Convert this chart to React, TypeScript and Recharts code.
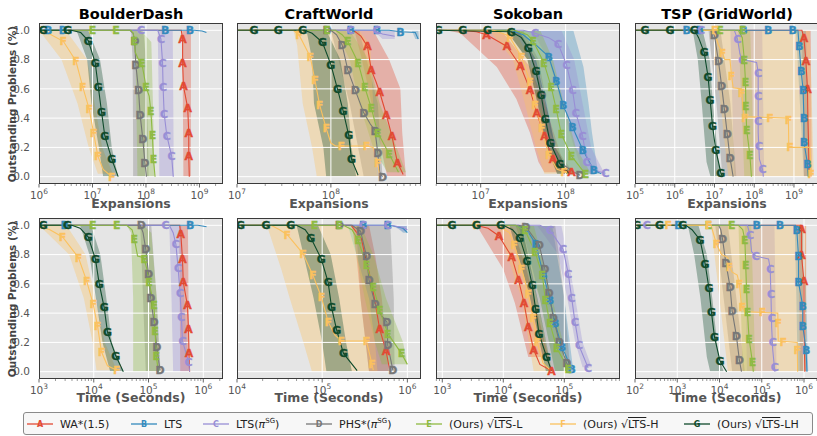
import React from "react";
import { ComposedChart, Line, Area, XAxis, YAxis, CartesianGrid, ReferenceLine } from "recharts";

// x values are log10(expansions) or log10(seconds); y is the share of problems still unsolved.
// series order in every panel: WA*, LTS, LTS(piSG), PHS*, sqrtLTS-L, sqrtLTS-H, sqrtLTS-LH
type Pt = [number, number];
type Band = [number, number, number]; // [y, low, high]

const methods = ["WA*(1.5)", "LTS", "LTS(πSG)", "PHS*(πSG)", "(Ours) √LTS-L", "(Ours) √LTS-H", "(Ours) √LTS-LH"];
const colors = ["#E24A33", "#348ABD", "#988ED5", "#777777", "#8EBA42", "#FBC15E", "#0E4A2B"];
const letters = ["A", "B", "C", "D", "E", "F", "G"];
const yTicks = [0, 0.2, 0.4, 0.6, 0.8, 1.0];

// ---------- BoulderDash, expansions
const bdExpTicks = [6, 7, 8, 9];
const bdExpLines: Pt[][] = [
  [[6, 1], [8.66, 1], [8.685, 0.94], [8.685, 0.78], [8.7, 0.62], [8.78, 0.47], [8.8, 0.3], [8.8, 0.14], [8.81, 0]],
  [[6, 1], [8.9, 1], [9.05, 0.995], [9.13, 0.985]],
  [[6, 1], [8.22, 1], [8.28, 0.94], [8.31, 0.78], [8.32, 0.61], [8.34, 0.43], [8.39, 0.28], [8.48, 0.14], [8.51, 0]],
  [[6, 1], [7.7, 1], [7.76, 0.98], [7.79, 0.925], [7.81, 0.766], [7.86, 0.595], [7.89, 0.425], [7.94, 0.26], [7.98, 0.095], [8.01, 0]],
  [[6, 1], [7.72, 1], [7.76, 0.98], [7.78, 0.925], [7.8, 0.85], [7.86, 0.8], [7.92, 0.777], [7.96, 0.7], [8.0, 0.614], [8.06, 0.55], [8.09, 0.452], [8.12, 0.282], [8.14, 0.118], [8.17, 0]],
  [[6, 0.995], [6.2, 0.975], [6.455, 0.925], [6.69, 0.79], [6.82, 0.61], [6.94, 0.46], [7.02, 0.3], [7.1, 0.14], [7.2, 0.05], [7.36, 0]],
  [[6, 1], [6.6, 1], [6.78, 0.985], [6.92, 0.93], [7.05, 0.78], [7.11, 0.61], [7.17, 0.44], [7.23, 0.28], [7.36, 0.12], [7.48, 0]],
];
const bdExpMarks: Pt[][] = [
  [[8.685, 0.94], [8.685, 0.78], [8.7, 0.62], [8.78, 0.47], [8.8, 0.3], [8.8, 0.14]],
  [[6.17, 1], [6.45, 1], [8.36, 1], [8.82, 1]],
  [[7.91, 1], [8.28, 0.94], [8.31, 0.78], [8.32, 0.61], [8.34, 0.43], [8.39, 0.28], [8.48, 0.14]],
  [[7.79, 0.925], [7.81, 0.766], [7.86, 0.595], [7.89, 0.425], [7.94, 0.26], [7.98, 0.095]],
  [[7.0, 1], [7.44, 1], [7.78, 0.925], [7.92, 0.777], [8.0, 0.614], [8.09, 0.452], [8.12, 0.282], [8.14, 0.118]],
  [[6.455, 0.925], [6.69, 0.79], [6.82, 0.61], [6.94, 0.46], [7.02, 0.3], [7.1, 0.14], [7.36, 0.0]],
  [[6.08, 1], [6.54, 1], [6.92, 0.93], [7.05, 0.78], [7.11, 0.61], [7.17, 0.44], [7.23, 0.28], [7.36, 0.12]],
];
const bdExpBands: Band[][] = [
  [[1, 8.68, 8.84], [0, 8.7, 8.84]],
  [],
  [[1, 8.22, 8.5], [0.5, 8.24, 8.51], [0, 8.25, 8.52]],
  [[1, 7.72, 7.95], [0.8, 7.75, 8.0], [0.2, 7.76, 8.04], [0, 7.76, 8.05]],
  [[1, 7.75, 7.9], [0.92, 7.8, 8.1], [0.5, 7.82, 8.13], [0, 7.84, 8.16]],
  [[1, 6.0, 6.5], [0.8, 6.42, 6.9], [0.5, 6.72, 7.04], [0.2, 6.93, 7.18], [0.02, 7.1, 7.38]],
  [[1, 6.7, 6.92], [0.8, 6.9, 7.14], [0.5, 6.98, 7.27], [0.2, 7.12, 7.36], [0, 7.2, 7.48]],
];

// ---------- CraftWorld, expansions
const cwExpTicks = [7, 8];
const cwExpLines: Pt[][] = [
  [[7, 1], [8.24, 1], [8.32, 0.96], [8.39, 0.89], [8.43, 0.73], [8.48, 0.65], [8.52, 0.577], [8.59, 0.425], [8.65, 0.277], [8.71, 0.095], [8.77, 0.015]],
  [[7, 1], [8.62, 1], [8.74, 0.99], [8.9, 0.985], [8.93, 0.94]],
  [[7, 1], [8.45, 1], [8.55, 0.975], [8.68, 0.96]],
  [[7, 1], [8.0, 1], [8.06, 0.97], [8.12, 0.9], [8.18, 0.73], [8.26, 0.59], [8.35, 0.436], [8.42, 0.36], [8.47, 0.316], [8.5, 0.16], [8.52, 0.03], [8.55, 0]],
  [[7, 1], [8.05, 1], [8.12, 0.97], [8.18, 0.925], [8.29, 0.78], [8.36, 0.614], [8.43, 0.47], [8.5, 0.3], [8.62, 0.157], [8.72, 0.03]],
  [[7, 1], [7.6, 1], [7.66, 0.97], [7.78, 0.82], [7.83, 0.66], [7.88, 0.49], [7.95, 0.33], [8.0, 0.23], [8.05, 0.21], [8.38, 0.21], [8.45, 0.2], [8.5, 0.095], [8.52, 0]],
  [[7, 1], [7.72, 1], [7.8, 0.98], [7.91, 0.918], [8.0, 0.766], [8.07, 0.6], [8.13, 0.452], [8.19, 0.282], [8.22, 0.118], [8.29, 0.01]],
];
const cwExpMarks: Pt[][] = [
  [[8.39, 0.89], [8.43, 0.73], [8.52, 0.577], [8.59, 0.425], [8.65, 0.277], [8.71, 0.095]],
  [[8.21, 1], [8.49, 1], [8.74, 0.99]],
  [[8.21, 1], [8.49, 1]],
  [[7.96, 1], [8.12, 0.9], [8.18, 0.73], [8.26, 0.59], [8.35, 0.436], [8.47, 0.316], [8.5, 0.16], [8.55, 0.0]],
  [[7.96, 1], [8.18, 0.925], [8.29, 0.78], [8.36, 0.614], [8.43, 0.47], [8.5, 0.3], [8.62, 0.157]],
  [[7.66, 0.97], [7.78, 0.82], [7.83, 0.66], [7.88, 0.49], [7.95, 0.33], [8.11, 0.21], [8.38, 0.21], [8.5, 0.095]],
  [[7.18, 1], [7.44, 1], [7.7, 1], [7.91, 0.918], [8.0, 0.766], [8.07, 0.6], [8.13, 0.452], [8.19, 0.282], [8.22, 0.118]],
];
const cwExpBands: Band[][] = [
  [[1, 8.25, 8.45], [0.8, 8.33, 8.62], [0.6, 8.4, 8.74], [0.3, 8.5, 8.76], [0, 8.6, 8.8]],
  [[1, 8.86, 8.93], [0.94, 8.9, 8.94]],
  [[1, 8.45, 8.68], [0.94, 8.55, 8.68]],
  [[1, 8.0, 8.3], [0.5, 8.2, 8.5], [0, 8.35, 8.55]],
  [[1, 8.05, 8.2], [0.8, 8.2, 8.4], [0.5, 8.3, 8.52], [0.2, 8.45, 8.7], [0.03, 8.6, 8.8]],
  [[1, 7.6, 8.3], [0.9, 7.64, 8.42], [0.5, 7.7, 8.45], [0.2, 7.8, 8.48], [0, 7.85, 8.5]],
  [[1, 7.74, 7.95], [0.8, 7.8, 8.1], [0.5, 7.82, 8.18], [0.2, 7.92, 8.22], [0, 7.95, 8.27]],
];

// ---------- Sokoban, expansions
const skExpTicks = [7, 8];
const skExpLines: Pt[][] = [
  [[6.47, 1], [6.75, 1], [6.95, 0.99], [7.07, 0.97], [7.31, 0.89], [7.47, 0.755], [7.58, 0.595], [7.66, 0.436], [7.75, 0.277], [7.85, 0.12], [7.95, 0.05], [8.07, 0.03]],
  [[6.47, 1], [7.35, 1], [7.5, 0.97], [7.65, 0.9], [7.8, 0.82], [7.89, 0.657], [7.97, 0.49], [8.08, 0.34], [8.2, 0.186], [8.33, 0.045], [8.42, 0.02]],
  [[6.47, 1], [7.5, 1], [7.64, 0.98], [7.8, 0.95], [7.91, 0.91], [8.01, 0.766], [8.08, 0.595], [8.12, 0.436], [8.2, 0.277], [8.23, 0.175], [8.27, 0.1], [8.35, 0.04], [8.47, 0.023]],
  [[6.47, 1], [7.3, 1], [7.45, 0.97], [7.57, 0.88], [7.66, 0.72], [7.72, 0.56], [7.77, 0.395], [7.83, 0.23], [7.95, 0.09], [8.1, 0.03], [8.17, 0.01]],
  [[6.47, 1], [7.4, 1], [7.55, 0.97], [7.62, 0.925], [7.745, 0.777], [7.83, 0.614], [7.89, 0.46], [7.95, 0.29], [8.07, 0.14], [8.235, 0.016]],
  [[6.47, 1], [7.15, 1], [7.3, 0.97], [7.345, 0.95], [7.48, 0.82], [7.58, 0.65], [7.64, 0.49], [7.72, 0.33], [7.8, 0.15], [7.9, 0.05], [8.05, 0.02]],
  [[6.47, 1], [7.36, 0.99], [7.48, 0.95], [7.56, 0.88], [7.65, 0.72], [7.71, 0.56], [7.76, 0.395], [7.82, 0.23], [7.93, 0.09], [8.05, 0.016]],
];
const skExpMarks: Pt[][] = [
  [[7.07, 0.97], [7.31, 0.89], [7.47, 0.755], [7.58, 0.595], [7.66, 0.436], [7.75, 0.277], [7.85, 0.12], [8.07, 0.03]],
  [[7.8, 0.82], [7.89, 0.657], [7.97, 0.49], [8.08, 0.34], [8.2, 0.186], [8.33, 0.045]],
  [[7.64, 0.98], [7.91, 0.91], [8.01, 0.766], [8.08, 0.595], [8.12, 0.436], [8.2, 0.277], [8.25, 0.1], [8.47, 0.023]],
  [[7.72, 0.56], [7.83, 0.23], [8.17, 0.01]],
  [[7.62, 0.925], [7.745, 0.777], [7.83, 0.614], [7.89, 0.46], [7.95, 0.29], [8.07, 0.14], [8.235, 0.016]],
  [[7.345, 0.95], [7.48, 0.82], [7.58, 0.65], [7.64, 0.49], [7.72, 0.33], [7.8, 0.15], [7.98, 0.03]],
  [[6.5, 1], [6.79, 1], [7.08, 1], [7.36, 0.99], [7.56, 0.88], [7.65, 0.72], [7.71, 0.56], [7.76, 0.395], [7.82, 0.23], [7.93, 0.09]],
];
const skExpBands: Band[][] = [
  [[1, 6.6, 7.1], [0.98, 6.76, 7.27], [0.75, 7.19, 7.58], [0.53, 7.42, 7.74], [0.3, 7.58, 7.86], [0.1, 7.68, 7.97], [0.03, 7.75, 8.05]],
  [[1, 7.46, 8.09], [0.75, 7.66, 8.21], [0.5, 7.76, 8.27], [0.3, 7.82, 8.31], [0.07, 7.97, 8.37], [0.02, 8.0, 8.4]],
  [[1, 7.6, 7.95], [0.8, 7.8, 8.1], [0.5, 7.95, 8.2], [0.2, 8.1, 8.3], [0.03, 8.2, 8.45]],
  [[1, 7.3, 7.5], [0.8, 7.55, 7.68], [0.5, 7.67, 7.78], [0.2, 7.77, 7.88], [0.02, 7.9, 8.1]],
  [[1, 7.4, 7.7], [0.8, 7.65, 7.85], [0.5, 7.78, 7.98], [0.2, 7.88, 8.12], [0.02, 8.0, 8.3]],
  [[1, 7.1, 7.4], [0.8, 7.38, 7.58], [0.5, 7.52, 7.7], [0.2, 7.65, 7.82], [0.02, 7.75, 8.05]],
  [[1, 7.3, 7.45], [0.8, 7.55, 7.65], [0.5, 7.67, 7.77], [0.2, 7.78, 7.88], [0.02, 7.9, 8.05]],
];

// ---------- TSP (GridWorld), expansions
const tsExpTicks = [5, 6, 7, 8, 9];
const tsExpLines: Pt[][] = [
  [[5, 1], [9.2, 1], [9.25, 0.95], [9.3, 0.79], [9.34, 0.6], [9.35, 0.4], [9.37, 0.2], [9.38, 0]],
  [[5, 1], [9.1, 1], [9.13, 0.895], [9.18, 0.72], [9.23, 0.595], [9.25, 0.4], [9.25, 0.236], [9.34, 0.09], [9.36, 0]],
  [[5, 1], [7.5, 1], [7.58, 0.94], [7.64, 0.84], [7.7, 0.8], [8.06, 0.78], [8.1, 0.71], [8.1, 0.3], [8.13, 0.12], [8.21, 0.05], [8.23, 0]],
  [[5, 1], [6.9, 1], [6.996, 0.97], [7.1, 0.79], [7.18, 0.62], [7.25, 0.46], [7.32, 0.295], [7.39, 0.13], [7.47, 0]],
  [[5, 1], [7.6, 1], [7.7, 0.95], [7.75, 0.8], [7.78, 0.65], [7.79, 0.48], [7.81, 0.32], [7.89, 0.15], [7.93, 0]],
  [[5, 1], [6.98, 1], [7.1, 0.9], [7.2, 0.845], [7.26, 0.8], [7.39, 0.8], [7.43, 0.69], [7.47, 0.607], [7.68, 0.6], [7.74, 0.41], [8.86, 0.4], [8.87, 0.2], [9.4, 0.2], [9.43, 0]],
  [[5, 1], [6.5, 1], [6.6, 0.95], [6.74, 0.85], [6.84, 0.68], [6.89, 0.527], [6.95, 0.35], [7.03, 0.186], [7.16, 0.027], [7.2, 0]],
];
const tsExpMarks: Pt[][] = [
  [[9.25, 0.95], [9.3, 0.79], [9.34, 0.6]],
  [[6.3, 1], [6.63, 1], [7.73, 1], [8.35, 1], [8.97, 1], [9.13, 0.895], [9.18, 0.72], [9.23, 0.595], [9.25, 0.4], [9.25, 0.236], [9.34, 0.09]],
  [[6.66, 1], [7.58, 0.94], [7.7, 0.8], [8.1, 0.71], [8.1, 0.55], [8.1, 0.38], [8.12, 0.21], [8.21, 0.05]],
  [[6.996, 0.97], [7.1, 0.79], [7.18, 0.62], [7.25, 0.46], [7.32, 0.295], [7.39, 0.13]],
  [[7.14, 1], [7.71, 1], [7.75, 0.8], [7.78, 0.65], [7.79, 0.48], [7.81, 0.32], [7.89, 0.15]],
  [[7.01, 1], [7.2, 0.845], [7.43, 0.69], [7.68, 0.57], [7.77, 0.4], [8.4, 0.4], [8.86, 0.39], [8.9, 0.2], [9.43, 0.016]],
  [[5.25, 1], [5.88, 1], [6.49, 1], [6.74, 0.85], [6.84, 0.68], [6.89, 0.527], [6.95, 0.35], [7.03, 0.186], [7.16, 0.027]],
];
const tsExpBands: Band[][] = [
  [[1, 9.2, 9.42], [0, 9.25, 9.45]],
  [[1, 9.05, 9.3], [0.5, 9.15, 9.35], [0, 9.25, 9.42]],
  [[1, 7.4, 8.2], [0, 7.5, 8.25]],
  [[1, 6.85, 7.15], [0.5, 7.05, 7.4], [0, 7.2, 7.55]],
  [[1, 7.6, 7.9], [0.5, 7.68, 7.95], [0, 7.75, 8.0]],
  [[1, 6.95, 9.4], [0.5, 7.15, 9.45], [0, 7.35, 9.5]],
  [[1, 6.45, 6.7], [0.8, 6.58, 6.88], [0.5, 6.68, 6.96], [0.1, 6.8, 7.1], [0, 6.9, 7.2]],
];

// ---------- BoulderDash, seconds
const bdTimeTicks = [3, 4, 5, 6];
const bdTimeLines: Pt[][] = [
  [[3, 1], [5.57, 1], [5.59, 0.94], [5.62, 0.77], [5.635, 0.61], [5.71, 0.455], [5.73, 0.29], [5.74, 0.125], [5.75, 0]],
  [[3, 1], [5.9, 1], [6.06, 0.99]],
  [[3, 1], [5.38, 1], [5.45, 0.95], [5.5, 0.87], [5.54, 0.71], [5.575, 0.54], [5.6, 0.375], [5.62, 0.21], [5.73, 0.07], [5.75, 0]],
  [[3, 1], [4.85, 1], [4.9, 0.95], [4.95, 0.836], [5.0, 0.67], [5.04, 0.505], [5.1, 0.34], [5.15, 0.17], [5.21, 0.01]],
  [[3, 1], [4.6, 1], [4.7, 0.97], [4.74, 0.91], [4.8, 0.79], [4.9, 0.78], [4.92, 0.77], [4.97, 0.7], [5.01, 0.61], [5.1, 0.455], [5.12, 0.277], [5.14, 0.11], [5.18, 0]],
  [[3, 0.995], [3.2, 0.97], [3.43, 0.92], [3.72, 0.78], [3.87, 0.62], [3.99, 0.46], [4.07, 0.31], [4.14, 0.136], [4.25, 0.04], [4.42, 0.01]],
  [[3, 1], [3.6, 1], [3.75, 0.98], [3.9, 0.92], [4.03, 0.77], [4.1, 0.6], [4.19, 0.44], [4.25, 0.27], [4.4, 0.11], [4.54, 0]],
];
const bdTimeMarks: Pt[][] = [
  [[5.59, 0.94], [5.62, 0.77], [5.635, 0.61], [5.71, 0.455], [5.73, 0.29], [5.74, 0.125]],
  [[3.47, 1], [5.76, 1]],
  [[5.31, 1], [5.5, 0.87], [5.54, 0.71], [5.575, 0.54], [5.6, 0.375], [5.62, 0.21], [5.73, 0.07]],
  [[4.87, 1], [4.95, 0.836], [5.0, 0.67], [5.04, 0.505], [5.1, 0.34], [5.15, 0.17], [5.21, 0.01]],
  [[3.98, 1], [4.42, 1], [4.74, 0.91], [4.92, 0.77], [5.01, 0.61], [5.1, 0.455], [5.12, 0.277], [5.14, 0.11]],
  [[3.43, 0.92], [3.72, 0.78], [3.87, 0.62], [3.99, 0.46], [4.07, 0.31], [4.14, 0.136], [4.42, 0.01]],
  [[3.08, 1], [3.52, 1], [3.9, 0.92], [4.03, 0.77], [4.1, 0.6], [4.19, 0.44], [4.25, 0.27], [4.4, 0.11]],
];
const bdTimeBands: Band[][] = [
  [[1, 5.56, 5.72], [0, 5.58, 5.74]],
  [],
  [[1, 5.38, 5.6], [0.5, 5.42, 5.65], [0, 5.45, 5.73]],
  [[1, 4.85, 5.05], [0.5, 4.9, 5.15], [0, 4.95, 5.22]],
  [[1, 4.6, 4.9], [0.95, 4.68, 5.05], [0.5, 4.72, 5.15], [0, 4.72, 5.2]],
  [[1, 3.0, 3.5], [0.8, 3.55, 3.85], [0.5, 3.82, 4.03], [0.2, 3.98, 4.2], [0.01, 4.05, 4.42]],
  [[1, 3.75, 3.95], [0.8, 3.92, 4.12], [0.5, 4.04, 4.23], [0.2, 4.16, 4.33], [0, 4.3, 4.54]],
];

// ---------- CraftWorld, seconds
const cwTimeTicks = [4, 5, 6];
const cwTimeLines: Pt[][] = [
  [[4, 1], [5.34, 1], [5.46, 0.91], [5.5, 0.8], [5.55, 0.68], [5.62, 0.48], [5.675, 0.29], [5.75, 0.14], [5.79, 0.02]],
  [[4, 1], [5.8, 1], [5.95, 0.98], [6.0, 0.95]],
  [[4, 1], [5.8, 1], [5.95, 0.985], [6.0, 0.97]],
  [[4, 1], [5.35, 1], [5.45, 0.96], [5.52, 0.79], [5.55, 0.625], [5.62, 0.466], [5.7, 0.38], [5.76, 0.34], [5.77, 0.18], [5.83, 0.01]],
  [[4, 1], [5.25, 1], [5.35, 0.97], [5.42, 0.9], [5.52, 0.73], [5.6, 0.58], [5.675, 0.42], [5.77, 0.26], [5.93, 0.125], [6.0, 0.05]],
  [[4, 1], [4.4, 1], [4.5, 0.97], [4.59, 0.936], [4.775, 0.807], [4.89, 0.66], [4.99, 0.51], [5.07, 0.34], [5.15, 0.25], [5.225, 0.21], [5.52, 0.21], [5.585, 0.05], [5.6, 0.01]],
  [[4, 1], [4.7, 1], [4.8, 0.97], [4.865, 0.916], [4.99, 0.77], [5.07, 0.61], [5.11, 0.44], [5.17, 0.284], [5.25, 0.125], [5.41, 0.007]],
];
const cwTimeMarks: Pt[][] = [
  [[5.675, 0.29], [5.75, 0.14]],
  [[5.48, 1], [5.77, 1]],
  [[5.48, 1], [5.77, 1]],
  [[5.2, 1], [5.45, 0.96], [5.52, 0.79], [5.55, 0.625], [5.62, 0.466], [5.76, 0.34], [5.77, 0.18], [5.83, 0.01]],
  [[4.91, 1], [5.2, 1], [5.42, 0.9], [5.52, 0.73], [5.6, 0.58], [5.675, 0.42], [5.77, 0.26], [5.93, 0.125]],
  [[4.59, 0.936], [4.775, 0.807], [4.89, 0.66], [4.99, 0.51], [5.07, 0.34], [5.225, 0.21], [5.52, 0.21], [5.585, 0.05]],
  [[4.04, 1], [4.34, 1], [4.63, 1], [4.865, 0.916], [4.99, 0.77], [5.07, 0.61], [5.11, 0.44], [5.17, 0.284], [5.25, 0.125]],
];
const cwTimeBands: Band[][] = [
  [[1, 5.35, 5.55], [0.8, 5.4, 5.62], [0.5, 5.45, 5.7], [0, 5.55, 5.78]],
  [[1, 5.85, 6.0], [0.95, 5.95, 6.0]],
  [[1, 5.8, 6.0], [0.96, 5.95, 6.0]],
  [[1, 5.4, 5.8], [0.5, 5.45, 5.84], [0, 5.55, 5.85]],
  [[1, 5.3, 5.45], [0.8, 5.4, 5.6], [0.5, 5.5, 5.75], [0.2, 5.62, 5.95], [0.05, 5.7, 6.0]],
  [[1, 4.35, 5.3], [0.7, 4.52, 5.45], [0.5, 4.62, 5.55], [0.2, 4.78, 5.62], [0, 4.88, 5.65]],
  [[1, 4.7, 4.95], [0.8, 4.78, 5.1], [0.5, 4.9, 5.2], [0.2, 5.0, 5.28], [0, 5.05, 5.35]],
];

// ---------- Sokoban, seconds
const skTimeTicks = [3, 4, 5];
const skTimeLines: Pt[][] = [
  [[2.9, 1], [3.55, 1], [3.75, 0.98], [3.93, 0.927], [4.14, 0.784], [4.25, 0.625], [4.34, 0.47], [4.41, 0.307], [4.5, 0.148], [4.6, 0.05], [4.79, 0.007]],
  [[2.9, 1], [4.2, 1], [4.4, 0.96], [4.53, 0.875], [4.66, 0.66], [4.765, 0.49], [4.85, 0.33], [4.96, 0.17], [5.12, 0.02]],
  [[2.9, 1], [4.6, 1], [4.765, 0.966], [4.98, 0.836], [5.065, 0.67], [5.12, 0.505], [5.175, 0.34], [5.24, 0.18], [5.39, 0.027]],
  [[2.9, 1], [4.25, 1], [4.37, 0.99], [4.59, 0.864], [4.68, 0.705], [4.75, 0.54], [4.82, 0.368], [4.92, 0.2], [5.04, 0.057], [5.1, 0.01]],
  [[2.9, 1], [4.2, 1], [4.355, 0.966], [4.52, 0.82], [4.64, 0.66], [4.69, 0.49], [4.765, 0.33], [4.875, 0.164], [5.065, 0.016]],
  [[2.9, 1], [3.9, 1], [4.1, 0.95], [4.18, 0.864], [4.3, 0.705], [4.41, 0.534], [4.49, 0.364], [4.56, 0.2], [4.65, 0.06], [4.77, 0.01]],
  [[2.9, 1], [4.0, 1], [4.15, 0.97], [4.27, 0.914], [4.39, 0.755], [4.475, 0.59], [4.53, 0.427], [4.585, 0.26], [4.71, 0.1], [4.79, 0.007]],
];
const skTimeMarks: Pt[][] = [
  [[3.93, 0.927], [4.14, 0.784], [4.25, 0.625], [4.34, 0.47], [4.41, 0.307], [4.5, 0.148], [4.79, 0.007]],
  [[4.53, 0.875], [4.66, 0.66], [4.765, 0.49], [4.85, 0.33], [4.96, 0.17], [5.12, 0.02]],
  [[4.765, 0.966], [4.98, 0.836], [5.065, 0.67], [5.12, 0.505], [5.175, 0.34], [5.24, 0.18], [5.39, 0.027]],
  [[4.37, 0.99], [4.59, 0.864], [4.68, 0.705], [4.75, 0.54], [4.82, 0.368], [4.92, 0.2], [5.04, 0.057]],
  [[4.355, 0.966], [4.52, 0.82], [4.64, 0.66], [4.69, 0.49], [4.765, 0.33], [4.875, 0.164], [5.065, 0.016]],
  [[3.56, 1], [4.18, 0.864], [4.3, 0.705], [4.41, 0.534], [4.49, 0.364], [4.56, 0.2]],
  [[3.16, 1], [3.56, 1], [3.96, 1], [4.27, 0.914], [4.39, 0.755], [4.475, 0.59], [4.53, 0.427], [4.585, 0.26], [4.71, 0.1]],
];
const skTimeBands: Band[][] = [
  [[1, 3.5, 4.05], [0.98, 3.59, 4.16], [0.7, 4.0, 4.38], [0.47, 4.19, 4.52], [0.1, 4.41, 4.74]],
  [[1, 4.3, 4.8], [0.5, 4.6, 5.0], [0, 4.85, 5.15]],
  [[1, 4.55, 4.95], [0.8, 4.9, 5.05], [0.5, 5.05, 5.18], [0.2, 5.18, 5.3], [0.03, 5.3, 5.45]],
  [[1, 4.25, 4.85], [0.5, 4.55, 5.0], [0, 4.8, 5.1]],
  [[1, 4.2, 4.5], [0.5, 4.6, 4.8], [0, 4.85, 5.1]],
  [[1, 3.9, 4.25], [0.5, 4.3, 4.55], [0, 4.5, 4.8]],
  [[1, 4.1, 4.3], [0.5, 4.44, 4.56], [0, 4.7, 4.8]],
];

// ---------- TSP (GridWorld), seconds
const tsTimeTicks = [2, 3, 4, 5, 6];
const tsTimeLines: Pt[][] = [
  [[2, 1], [5.93, 1], [5.94, 0.977], [5.94, 0.795], [6.0, 0.618], [6.0, 0.3], [6.02, 0]],
  [[2, 1], [5.8, 1], [5.83, 0.966], [5.87, 0.79], [5.87, 0.61], [5.97, 0.45], [5.97, 0.314], [6.05, 0.148], [6.07, 0]],
  [[2, 1], [4.66, 1], [4.72, 0.936], [4.76, 0.82], [4.86, 0.79], [5.16, 0.77], [5.2, 0.705], [5.22, 0.5], [5.235, 0.3], [5.26, 0.15], [5.31, 0]],
  [[2, 1], [3.98, 1], [4.03, 0.97], [4.07, 0.91], [4.15, 0.745], [4.25, 0.58], [4.3, 0.414], [4.4, 0.245], [4.47, 0.08], [4.52, 0]],
  [[2, 1], [4.45, 1], [4.55, 0.97], [4.6, 0.9], [4.62, 0.73], [4.64, 0.564], [4.66, 0.41], [4.7, 0.227], [4.78, 0.064], [4.8, 0]],
  [[2, 1], [3.8, 1], [3.93, 0.87], [4.05, 0.8], [4.2, 0.78], [4.23, 0.718], [4.3, 0.68], [4.42, 0.66], [4.47, 0.6], [4.52, 0.45], [4.6, 0.41], [5.38, 0.4], [5.39, 0.21], [5.84, 0.2], [5.85, 0]],
  [[2, 1], [3.2, 1], [3.35, 0.97], [3.54, 0.9], [3.66, 0.736], [3.75, 0.57], [3.81, 0.405], [3.88, 0.24], [4.01, 0.075], [4.17, 0]],
];
const tsTimeMarks: Pt[][] = [
  [[5.94, 0.977], [5.94, 0.795], [6.0, 0.618]],
  [[3.03, 1], [4.88, 1], [5.43, 1], [5.83, 0.966], [5.87, 0.79], [5.87, 0.61], [5.97, 0.45], [5.97, 0.314], [6.05, 0.148]],
  [[2.28, 1], [4.72, 0.936], [4.86, 0.79], [5.2, 0.7], [5.22, 0.534], [5.235, 0.366], [5.26, 0.2], [5.31, 0.03]],
  [[4.07, 0.91], [4.15, 0.745], [4.25, 0.58], [4.3, 0.414], [4.4, 0.245], [4.47, 0.08]],
  [[3.74, 1], [4.29, 1], [4.6, 0.9], [4.62, 0.73], [4.64, 0.564], [4.66, 0.41], [4.7, 0.227], [4.78, 0.064]],
  [[2.79, 1], [3.74, 1], [3.93, 0.87], [4.23, 0.718], [4.47, 0.6], [4.54, 0.443], [5.02, 0.405], [5.39, 0.33], [5.51, 0.2], [5.84, 0.148]],
  [[2.04, 1], [2.58, 1], [3.13, 1], [3.54, 0.9], [3.66, 0.736], [3.75, 0.57], [3.81, 0.405], [3.88, 0.24], [4.01, 0.075]],
];
const tsTimeBands: Band[][] = [
  [[1, 5.88, 6.05], [0, 5.9, 6.05]],
  [[1, 5.78, 6.0], [0.5, 5.82, 6.05], [0, 5.85, 6.1]],
  [[1, 4.6, 5.3], [0, 4.65, 5.35]],
  [[1, 3.9, 4.2], [0.5, 4.1, 4.4], [0, 4.3, 4.6]],
  [[1, 4.45, 4.75], [0.5, 4.5, 4.8], [0, 4.55, 4.85]],
  [[1, 3.8, 6.05], [0.5, 4.0, 6.05], [0, 4.2, 6.05]],
  [[1, 3.25, 3.5], [0.8, 3.4, 3.7], [0.5, 3.55, 3.83], [0.1, 3.7, 3.98], [0, 3.78, 4.1]],
];

const PLOT_W = 184;
const PLOT_H = 161;
const AXIS_H = 22;
const PAD = 14;
const COL_X = [39, 237, 436, 635];
const ROW_Y = [23, 218];
const FONT = "'DejaVu Sans', sans-serif";

const panels = [
  { title: "BoulderDash", row: 0, col: 0, domain: [6, 9.44], ticks: bdExpTicks, lines: bdExpLines, marks: bdExpMarks, bands: bdExpBands },
  { title: "CraftWorld", row: 0, col: 1, domain: [7, 8.96], ticks: cwExpTicks, lines: cwExpLines, marks: cwExpMarks, bands: cwExpBands },
  { title: "Sokoban", row: 0, col: 2, domain: [6.474, 8.64], ticks: skExpTicks, lines: skExpLines, marks: skExpMarks, bands: skExpBands },
  { title: "TSP (GridWorld)", row: 0, col: 3, domain: [5, 9.63], ticks: tsExpTicks, lines: tsExpLines, marks: tsExpMarks, bands: tsExpBands },
  { title: "", row: 1, col: 0, domain: [3, 6.36], ticks: bdTimeTicks, lines: bdTimeLines, marks: bdTimeMarks, bands: bdTimeBands },
  { title: "", row: 1, col: 1, domain: [4, 6.16], ticks: cwTimeTicks, lines: cwTimeLines, marks: cwTimeMarks, bands: cwTimeBands },
  { title: "", row: 1, col: 2, domain: [2.897, 5.913], ticks: skTimeTicks, lines: skTimeLines, marks: skTimeMarks, bands: skTimeBands },
  { title: "", row: 1, col: 3, domain: [2, 6.355], ticks: tsTimeTicks, lines: tsTimeLines, marks: tsTimeMarks, bands: tsTimeBands },
];

const minorTicks = (d: number[]) => {
  const out: number[] = [];
  for (let e = Math.floor(d[0]); e <= Math.ceil(d[1]); e++) {
    for (let k = 1; k <= 9; k++) {
      const v = e + Math.log10(k);
      if (v >= d[0] - 1e-9 && v <= d[1] + 1e-9) out.push(v);
    }
  }
  return out;
};

const XTick = (props: any) => {
  const { x, payload } = props;
  const v = payload.value;
  const major = Math.abs(v - Math.round(v)) < 1e-6;
  return (
    <g>
      <line x1={x} x2={x} y1={PLOT_H} y2={PLOT_H + (major ? 3.5 : 2)} stroke="#555" strokeWidth={major ? 0.9 : 0.6} />
      {major && (
        <text x={x} y={PLOT_H + 15} textAnchor="middle" fontSize={10.5} fill="#555" fontFamily={FONT}>
          <tspan>10</tspan>
          <tspan dy={-5} fontSize={7.5}>{Math.round(v)}</tspan>
        </text>
      )}
    </g>
  );
};

const letterDot = (ch: string, color: string) => (p: any) => {
  if (p.cx == null || p.cy == null) return <g key={`${ch}-${p.index}`} />;
  return (
    <text key={`${ch}-${p.index}`} x={p.cx} y={p.cy} dy="0.37em" textAnchor="middle" fontSize={11} fontWeight="bold"
      fontFamily={FONT} fill={color} stroke={color} strokeWidth={0.3}>
      {ch}
    </text>
  );
};

function Panel({ cfg }: { cfg: (typeof panels)[number] }) {
  const left = COL_X[cfg.col];
  const top = ROW_Y[cfg.row];
  const yW = cfg.col === 0 ? 34 : 0;
  const allTicks = minorTicks(cfg.domain);
  return (
    <>
      {cfg.title && (
        <div style={{ position: "absolute", left, top: 5, width: PLOT_W, textAlign: "center", fontSize: 14.5, fontWeight: "bold", fontFamily: FONT, lineHeight: "18px", color: "#000" }}>
          {cfg.title}
        </div>
      )}
      <div style={{ position: "absolute", left: left - yW - PAD, top }}>
        <ComposedChart width={PLOT_W + yW + 2 * PAD} height={PLOT_H + AXIS_H} layout="vertical"
          margin={{ top: 0, right: PAD, bottom: 0, left: PAD }}>
          <CartesianGrid vertical={false} horizontal={false} fill="#E5E5E5" fillOpacity={1} />
          <XAxis type="number" dataKey="x" domain={cfg.domain} allowDataOverflow ticks={allTicks} interval={0}
            tick={<XTick />} tickLine={false} axisLine={false} height={AXIS_H} />
          <YAxis type="number" dataKey="y" domain={[-0.05, 1.05]} allowDataOverflow reversed ticks={yTicks} interval={0}
            width={yW} tick={cfg.col === 0 ? { fontSize: 10.5, fill: "#555", fontFamily: FONT } : false}
            tickFormatter={(v: number) => v.toFixed(1)} tickLine={false} axisLine={false} tickMargin={3} />
          {cfg.ticks.map((t) => (
            <ReferenceLine key={`gx${t}`} x={t} stroke="#ffffff" strokeWidth={1} />
          ))}
          {yTicks.map((t) => (
            <ReferenceLine key={`gy${t}`} y={t} stroke="#ffffff" strokeWidth={1} />
          ))}
          {cfg.bands.map((b, i) =>
            b.length ? (
              <Area key={`b${i}`} data={b.map(([y, lo, hi]) => ({ y, r: [lo, hi] }))} dataKey="r" stroke="none"
                fill={colors[i]} fillOpacity={0.34} isAnimationActive={false} dot={false} activeDot={false} />
            ) : null
          )}
          {cfg.lines.map((l, i) => (
            <Line key={`l${i}`} data={l.map(([x, y]) => ({ x, y }))} dataKey="x" stroke={colors[i]} strokeWidth={1.1}
              dot={false} activeDot={false} isAnimationActive={false} />
          ))}
          {cfg.marks.map((m, i) => (
            <Line key={`m${i}`} data={m.map(([x, y]) => ({ x, y }))} dataKey="x" stroke="none"
              dot={letterDot(letters[i], colors[i])} activeDot={false} isAnimationActive={false} />
          ))}
        </ComposedChart>
      </div>
      <div style={{ position: "absolute", left, top, width: PLOT_W, height: PLOT_H, border: "1px solid #3a3a3a", boxSizing: "border-box", pointerEvents: "none" }} />
      <div style={{ position: "absolute", left, top: cfg.row === 0 ? 195 : 389, width: PLOT_W, textAlign: "center", fontSize: 12.5, fontWeight: "bold", fontFamily: FONT, color: "#555", lineHeight: "18px" }}>
        {cfg.row === 0 ? "Expansions" : "Time (Seconds)"}
      </div>
    </>
  );
}

const Sqrt = ({ s }: { s: string }) => (
  <>
    √<span style={{ textDecoration: "overline" }}>LTS</span>-{s}
  </>
);

const legendLabels = [
  <>WA*(1.5)</>,
  <>LTS</>,
  <>LTS(<i>π</i><sup style={{ fontSize: 7 }}>SG</sup>)</>,
  <>PHS*(<i>π</i><sup style={{ fontSize: 7 }}>SG</sup>)</>,
  <>(Ours) <Sqrt s="L" /></>,
  <>(Ours) <Sqrt s="H" /></>,
  <>(Ours) <Sqrt s="LH" /></>,
];
const legendX = [27, 131, 203, 306, 416, 550, 684];

export default function App() {
  return (
    <div style={{ position: "fixed", left: 0, top: 0, width: 817, height: 436, overflow: "hidden", background: "#fff" }}>
      {panels.map((p, i) => (
        <Panel key={i} cfg={p} />
      ))}
      {ROW_Y.map((t, i) => (
        <div key={i} style={{ position: "absolute", left: 12 - 100, top: t + PLOT_H / 2 - 8, width: 200, height: 16, textAlign: "center", transform: "rotate(-90deg)", fontSize: 10.5, fontWeight: "bold", fontFamily: FONT, color: "#444", lineHeight: "16px" }}>
          Outstanding Problems (%)
        </div>
      ))}
      <div style={{ position: "absolute", left: 23, top: 412, width: 790, height: 23, border: "1px solid #8a8a8a", borderRadius: 3, background: "#f7f7f7", boxSizing: "border-box" }} />
      {methods.map((m, i) => (
        <div key={m} style={{ position: "absolute", left: legendX[i], top: 415, height: 18, display: "flex", alignItems: "center", fontFamily: FONT, fontSize: 11, color: "#222", whiteSpace: "nowrap" }}>
          <svg width={26} height={12} style={{ marginRight: 7 }}>
            <line x1={0} x2={26} y1={6} y2={6} stroke={colors[i]} strokeWidth={1.3} />
            <text x={13} y={6} dy="0.36em" textAnchor="middle" fontSize={8} fontWeight="bold" fontFamily={FONT} fill={colors[i]}>
              {letters[i]}
            </text>
          </svg>
          <span>{legendLabels[i]}</span>
        </div>
      ))}
    </div>
  );
}
